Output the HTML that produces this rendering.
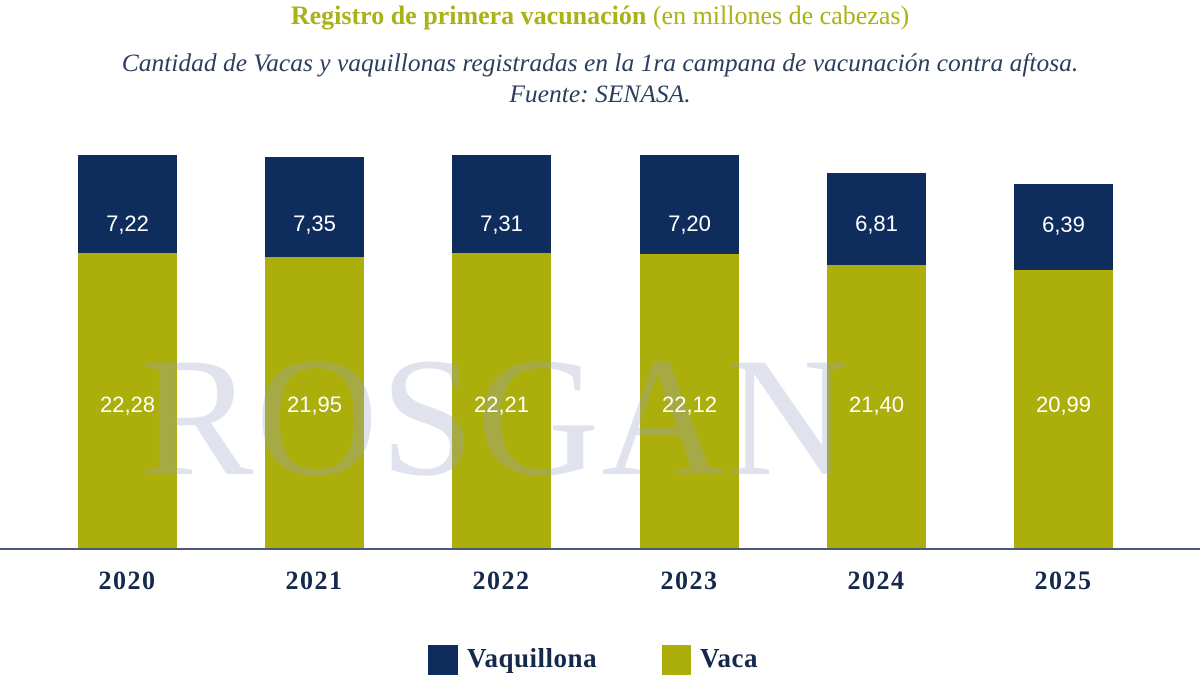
<!DOCTYPE html>
<html><head><meta charset="utf-8"><style>
body{margin:0;width:1200px;height:675px;background:#fff;position:relative;overflow:hidden;font-family:"Liberation Serif",serif}
.t{position:absolute;left:0;width:1200px;text-align:center}
.b{position:absolute;width:99px}
.n{background:#0e2d5c}
.o{background:#abae0b}
.l{position:absolute;width:99px;text-align:center;color:#fff;font-size:22px;font-family:"Liberation Sans",sans-serif;line-height:26px}
.y{position:absolute;top:566px;width:99px;text-align:center;font-weight:bold;font-size:26px;letter-spacing:1.5px;color:#15294d}
</style></head><body>
<div class="t" style="top:1px;font-size:26px;color:#a9b317;"><b>Registro de primera vacunación</b> (en millones de cabezas)</div>
<div class="t" style="top:47px;font-size:25.5px;font-style:italic;color:#2c3e5e;line-height:31px">Cantidad de Vacas y vaquillonas registradas en la 1ra campana de vacunación contra aftosa.<br>Fuente: SENASA.</div>

<div class="b n" style="left:78px;top:155px;height:98px"></div><div class="b o" style="left:78px;top:253px;height:296px"></div>
<div class="b n" style="left:265px;top:157px;height:100px"></div><div class="b o" style="left:265px;top:257px;height:292px"></div>
<div class="b n" style="left:452px;top:155px;height:98px"></div><div class="b o" style="left:452px;top:253px;height:296px"></div>
<div class="b n" style="left:640px;top:155px;height:99px"></div><div class="b o" style="left:640px;top:254px;height:295px"></div>
<div class="b n" style="left:827px;top:173px;height:92px"></div><div class="b o" style="left:827px;top:265px;height:284px"></div>
<div class="b n" style="left:1014px;top:184px;height:86px"></div><div class="b o" style="left:1014px;top:270px;height:279px"></div>
<div style="position:absolute;left:0;top:548px;width:1200px;height:2px;background:#4a5a78"></div>
<div style="position:absolute;left:140px;top:320px;font-size:170px;color:#9aa3c8;opacity:.3;letter-spacing:2px">ROSGAN</div>

<div class="l" style="left:78px;top:211px">7,22</div><div class="l" style="left:78px;top:392px">22,28</div>
<div class="l" style="left:265px;top:211px">7,35</div><div class="l" style="left:265px;top:392px">21,95</div>
<div class="l" style="left:452px;top:211px">7,31</div><div class="l" style="left:452px;top:392px">22,21</div>
<div class="l" style="left:640px;top:211px">7,20</div><div class="l" style="left:640px;top:392px">22,12</div>
<div class="l" style="left:827px;top:211px">6,81</div><div class="l" style="left:827px;top:392px">21,40</div>
<div class="l" style="left:1014px;top:212px">6,39</div><div class="l" style="left:1014px;top:392px">20,99</div>

<div class="y" style="left:78px">2020</div><div class="y" style="left:265px">2021</div><div class="y" style="left:452px">2022</div>
<div class="y" style="left:640px">2023</div><div class="y" style="left:827px">2024</div><div class="y" style="left:1014px">2025</div>

<div style="position:absolute;left:428px;top:645px;width:30px;height:30px;background:#0e2d5c"></div>
<div style="position:absolute;left:467px;top:643px;font-size:27px;font-weight:bold;color:#15294d;letter-spacing:0.5px">Vaquillona</div>
<div style="position:absolute;left:662px;top:645px;width:29px;height:30px;background:#abae0b"></div>
<div style="position:absolute;left:700px;top:643px;font-size:27px;font-weight:bold;color:#15294d;letter-spacing:0.5px">Vaca</div>
</body></html>
